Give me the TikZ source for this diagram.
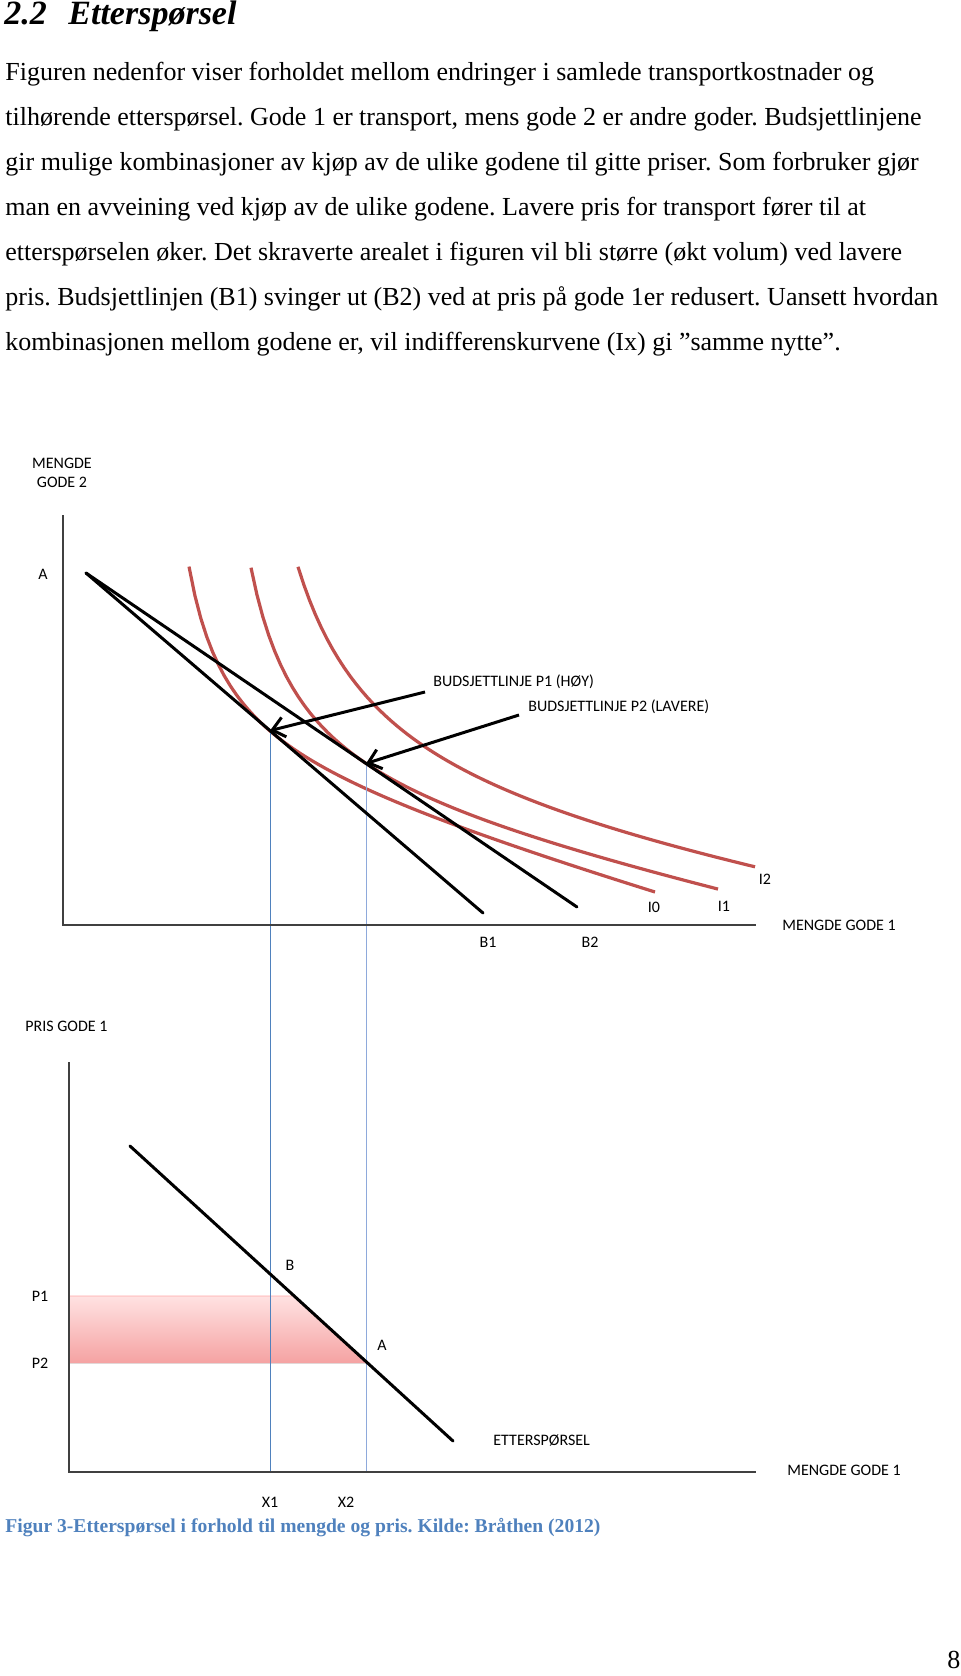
\documentclass[tikz,border=0pt]{standalone}
\usepackage{fontspec}
\setmainfont{Liberation Serif}
\newfontfamily\calibri{Carlito}
\usetikzlibrary{arrows.meta,calc}
\frenchspacing

\definecolor{curvered}{RGB}{192,80,77}
\definecolor{guideblue}{RGB}{79,129,189}
\definecolor{guidelight}{RGB}{142,169,219}
\definecolor{capblue}{RGB}{79,129,189}
\definecolor{pinktop}{RGB}{255,226,226}
\definecolor{pinkbot}{RGB}{245,162,162}

\begin{document}
\begin{tikzpicture}[x=0.5pt, y=-0.5pt,
  body/.style={anchor=base west, inner sep=0pt, font=\fontsize{13}{15}\selectfont},
  head/.style={anchor=base west, inner sep=0pt, font=\fontsize{17}{19}\selectfont\bfseries\itshape},
  lbl/.style={inner sep=0pt, font=\calibri\fontsize{8}{9.5}\selectfont},
  axis/.style={draw=black!75, line width=0.8pt},
  budget/.style={line width=1.5pt, line cap=round},
  indiff/.style={draw=curvered, line width=1.6pt},
  guide/.style={draw=guideblue, line width=0.5pt},
  arr/.style={line width=1.5pt, -{Straight Barb[length=6pt,width=10pt]}}]
\useasboundingbox (0,0) rectangle (960,1676);

% heading and text
\node[head] (headnum) at (4,24) {2.2};
\node[head] (headtxt) at (68,24) {Etterspørsel};
\node[body] (l1) at (5,80) {Figuren nedenfor viser forholdet mellom endringer i samlede transportkostnader og};
\node[body] (l2) at (5,125) {tilhørende etterspørsel. Gode 1 er transport, mens gode 2 er andre goder. Budsjettlinjene};
\node[body] (l3) at (5,170) {gir mulige kombinasjoner av kjøp av de ulike godene til gitte priser. Som forbruker gjør};
\node[body] (l4) at (5,215) {man en avveining ved kjøp av de ulike godene. Lavere pris for transport fører til at};
\node[body] (l5) at (5,260) {etterspørselen øker. Det skraverte arealet i figuren vil bli større (økt volum) ved lavere};
\node[body] (l6) at (5,305) {pris. Budsjettlinjen (B1) svinger ut (B2) ved at pris på gode 1er redusert. Uansett hvordan};
\node[body] (l7) at (5,350) {kombinasjonen mellom godene er, vil indifferenskurvene (Ix) gi ”samme nytte”.};

% upper diagram
\coordinate (Y1) at (63,515);
\coordinate (O1) at (63,925);
\coordinate (X1e) at (756,925);
\coordinate (Atop) at (86,573);
\coordinate (B1e) at (483,913);
\coordinate (B2e) at (577,907);
\coordinate (T1) at ($(Atop)!0.4635!(B1e)$);
\coordinate (T2) at ($(Atop)!0.5703!(B2e)$);
\coordinate (tail1) at (425,692);
\coordinate (tail2) at (519,715);

% lower diagram
\coordinate (Y2) at (69,1062);
\coordinate (O2) at (69,1472);
\coordinate (X2e) at (756,1472);
\coordinate (D1) at (130,1146);
\coordinate (D2) at (453,1441);
\coordinate (Bp) at ($(D1)!0.5085!(D2)$);
\coordinate (Ap) at ($(D1)!0.7356!(D2)$);

\fill[top color=pinktop, bottom color=pinkbot] (69,1296) -- (Bp) -- (Ap) -- (69,1363) -- cycle;
\draw[red!35, line width=0.4pt] (69,1296) -- (Bp);

\draw[indiff] plot[domain=189:655, samples=80] (\x, {724.5 - 83.77/((\x-149.3)/100) + 0.281*\x});
\draw[indiff] plot[domain=251:718, samples=80] (\x, {762.7 - 126.57/((\x-199.9)/100) + 0.21*\x});
\draw[indiff] plot[domain=298:755, samples=80] (\x, {784.5 - 229.5/((\x-212)/100) + 0.165*\x});

\draw[guide] (T1) -- (T1 |- O2);
\draw[guide, draw=guidelight] (T2) -- (T2 |- O2);

\draw[axis] (Y1) -- (O1) -- (X1e);
\draw[axis] (Y2) -- (O2) -- (X2e);

\draw[budget] (Atop) -- (B1e);
\draw[budget] (Atop) -- (B2e);
\draw[budget] (D1) -- (D2);
\draw[arr] (tail1) -- (T1);
\draw[arr] (tail2) -- (T2);

\node[lbl, align=center] (ylab1) at (62,473) {MENGDE\\GODE 2};
\node[lbl] (lblA1) at (43,574) {A};
\node[lbl, anchor=west] (bl1) at (433,682) {BUDSJETTLINJE P1 (HØY)};
\node[lbl, anchor=west] (bl2) at (528,707) {BUDSJETTLINJE P2 (LAVERE)};
\node[lbl] (i0) at (654,907) {I0};
\node[lbl] (i1) at (724,906) {I1};
\node[lbl] (i2) at (765,879) {I2};
\node[lbl] (b1) at (488,942) {B1};
\node[lbl] (b2) at (590,942) {B2};
\node[lbl, anchor=west] (xlab1) at (782,925) {MENGDE GODE 1};

\node[lbl, anchor=west] (ylab2) at (25,1026) {PRIS GODE 1};
\node[lbl] (lblB) at (290,1265) {B};
\node[lbl] (lblA2) at (382,1345) {A};
\node[lbl] (p1) at (40,1296) {P1};
\node[lbl] (p2) at (40,1363) {P2};
\node[lbl] (x1) at (270,1502) {X1};
\node[lbl] (x2) at (346,1502) {X2};
\node[lbl, anchor=west] (dem) at (493,1441) {ETTERSPØRSEL};
\node[lbl, anchor=west] (xlab2) at (787,1470) {MENGDE GODE 1};

% caption and page number
\node[body, font=\fontsize{9.8}{12}\selectfont\bfseries, text=capblue] (cap) at (5,1532) {Figur 3-Etterspørsel i forhold til mengde og pris. Kilde: Bråthen (2012)};
\node[body] (pnum) at (947,1668) {8};
\end{tikzpicture}
\end{document}
